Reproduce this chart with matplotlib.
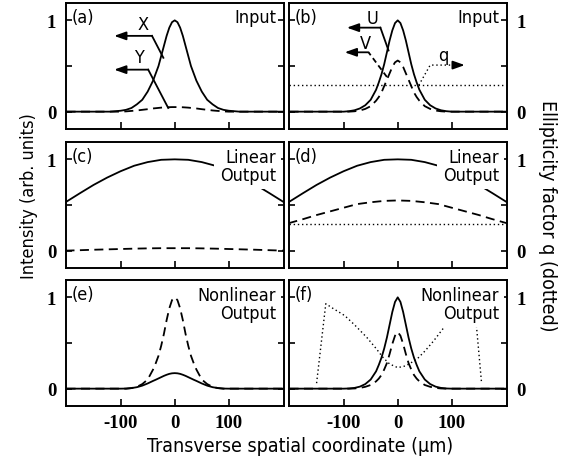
import numpy as np
import matplotlib.pyplot as plt

# ---------------- data ----------------
# grid for the narrow peaks (um)
px = [-200, -120, -100, -90, -80, -70, -60, -50, -40, -35, -30, -25, -20, -15, -10, -5, 0,
      5, 10, 15, 20, 25, 30, 35, 40, 50, 60, 70, 80, 90, 100, 120, 200]

# (a) input, X solid / Y dashed
a_x = [0, 0, 0.01, 0.02, 0.04, 0.08, 0.13, 0.22, 0.34, 0.42, 0.50, 0.61, 0.72, 0.83, 0.92, 0.98, 1.0,
       0.98, 0.92, 0.83, 0.72, 0.61, 0.50, 0.42, 0.34, 0.22, 0.13, 0.08, 0.04, 0.02, 0.01, 0, 0]
a_y = [0, 0, 0, 0.003, 0.008, 0.013, 0.02, 0.027, 0.035, 0.038, 0.041, 0.044, 0.046, 0.048, 0.049, 0.05, 0.05,
       0.05, 0.049, 0.048, 0.046, 0.044, 0.041, 0.038, 0.035, 0.027, 0.02, 0.013, 0.008, 0.003, 0, 0, 0]

# (b) input, U solid / V dashed / q dotted
b_u = [0, 0, 0, 0.005, 0.015, 0.035, 0.07, 0.13, 0.24, 0.32, 0.41, 0.52, 0.65, 0.78, 0.89, 0.97, 1.0,
       0.97, 0.89, 0.78, 0.65, 0.52, 0.41, 0.32, 0.24, 0.13, 0.07, 0.035, 0.015, 0.005, 0, 0, 0]
b_v = [0, 0, 0, 0, 0.004, 0.012, 0.03, 0.06, 0.12, 0.16, 0.21, 0.28, 0.35, 0.42, 0.49, 0.54, 0.56,
       0.54, 0.49, 0.42, 0.35, 0.28, 0.21, 0.16, 0.12, 0.06, 0.03, 0.012, 0.004, 0, 0, 0, 0]
q_in = 0.29

# broad grid for the linear outputs
bx = [-202, -175, -150, -125, -100, -75, -50, -25, 0, 25, 50, 75, 100, 125, 150, 175, 202]
lin_sol = [0.53, 0.63, 0.72, 0.80, 0.87, 0.93, 0.97, 0.995, 1.0, 0.995, 0.97, 0.93, 0.87, 0.80, 0.72, 0.63, 0.53]
c_dash = [0.0, 0.005, 0.01, 0.014, 0.018, 0.022, 0.025, 0.027, 0.027, 0.027, 0.025, 0.022, 0.018, 0.014, 0.01, 0.005, 0.0]
d_dash = [0.30, 0.345, 0.39, 0.43, 0.47, 0.51, 0.53, 0.545, 0.55, 0.545, 0.53, 0.51, 0.47, 0.43, 0.39, 0.345, 0.30]

# (e) nonlinear output
e_sol = [0, 0, 0, 0.001, 0.006, 0.016, 0.033, 0.057, 0.085, 0.098, 0.112, 0.126, 0.14, 0.152, 0.162, 0.168, 0.17,
         0.168, 0.162, 0.152, 0.14, 0.126, 0.112, 0.098, 0.085, 0.057, 0.033, 0.016, 0.006, 0.001, 0, 0, 0]
e_dash = [0, 0, 0, 0, 0.006, 0.02, 0.05, 0.10, 0.21, 0.28, 0.36, 0.47, 0.60, 0.75, 0.88, 0.97, 1.0,
          0.97, 0.88, 0.75, 0.60, 0.47, 0.36, 0.28, 0.21, 0.10, 0.05, 0.02, 0.006, 0, 0, 0, 0]

# (f) nonlinear output
f_sol = [0, 0, 0, 0.002, 0.008, 0.022, 0.05, 0.10, 0.19, 0.26, 0.34, 0.44, 0.56, 0.70, 0.84, 0.95, 1.0,
         0.95, 0.84, 0.70, 0.56, 0.44, 0.34, 0.26, 0.19, 0.10, 0.05, 0.022, 0.008, 0.002, 0, 0, 0]
f_dash = [0, 0, 0, 0, 0.002, 0.008, 0.02, 0.04, 0.08, 0.11, 0.15, 0.21, 0.28, 0.38, 0.49, 0.58, 0.62,
          0.58, 0.49, 0.38, 0.28, 0.21, 0.15, 0.11, 0.08, 0.04, 0.02, 0.008, 0.002, 0, 0, 0, 0]
fq_x = [-150, -133, -120, -98, -80, -57, -40, -27, -15, 0, 15, 35, 50, 66, 88, 110, 128, 142, 155]
fq_y = [0.06, 0.93, 0.88, 0.80, 0.70, 0.56, 0.44, 0.34, 0.27, 0.23, 0.25, 0.32, 0.41, 0.52, 0.69, 0.81, 0.88, 0.92, 0.06]

# ---------------- styles ----------------
sans = dict(family='DejaVu Sans', stretch='condensed')
tickf = dict(fontfamily='Liberation Serif', fontweight='bold', fontsize=13.5)
LW = 1.3
DASH = (5, 3)
DOT = (1, 2)
HEAD = '-|>,head_length=0.7,head_width=0.25'

fig = plt.figure(figsize=(5.72, 4.64), dpi=100)
lefts = [66 / 572, 289 / 572]
bottoms = [334 / 464, 195 / 464, 57 / 464]
w, h = 218 / 572, 126 / 464

axs = {}
names = [['a', 'b'], ['c', 'd'], ['e', 'f']]
for r in range(3):
    for c in range(2):
        ax = fig.add_axes([lefts[c], bottoms[r], w, h])
        ax.set_xlim(-201, 202)
        ax.set_ylim(-0.19, 1.19)
        ax.set_xticks([-100, 0, 100], ['-100', '0', '100'], **tickf)
        ax.set_yticks([0, 0.5, 1], ['0', '', '1'], **tickf)
        ax.tick_params(axis='x', direction='in', bottom=True, top=False, length=5, width=1.2,
                       labelbottom=(r == 2), pad=6)
        ax.tick_params(axis='y', direction='in', left=True, right=True, length=4, width=1.2,
                       labelleft=(c == 0), labelright=(c == 1), pad=7)
        for s in ax.spines.values():
            s.set_linewidth(1.4)
        ax.text(0.025, 0.96, '(%s)' % names[r][c], transform=ax.transAxes, ha='left', va='top',
                fontsize=13, **sans)
        axs[names[r][c]] = ax

box = dict(boxstyle='square,pad=0.3', fc='white', ec='none')


def corner_text(ax, s):
    # white box hides the curves behind it, spines stay on top
    ax.text(0.963, 0.955, s, transform=ax.transAxes, ha='right', va='top', fontsize=13,
            linespacing=1.0, multialignment='right', bbox=box, zorder=2.3, **sans)


def arrow(ax, tip, start):
    ax.annotate('', xy=tip, xytext=start,
                arrowprops=dict(arrowstyle=HEAD, color='k', lw=LW, shrinkA=0, shrinkB=0))


# (a)
ax = axs['a']
ax.plot(px, a_x, 'k-', lw=LW)
ax.plot(px, a_y, 'k', lw=LW, dashes=DASH)
ax.text(0.963, 0.96, 'Input', transform=ax.transAxes, ha='right', va='top', fontsize=13, **sans)
ax.plot([-21, -42], [0.59, 0.83], 'k-', lw=LW)
arrow(ax, (-112, 0.83), (-42, 0.83))
ax.text(-59, 0.96, 'X', ha='center', va='center', fontsize=13, **sans)
ax.plot([-12, -49], [0.04, 0.46], 'k-', lw=LW)
arrow(ax, (-112, 0.46), (-49, 0.46))
ax.text(-66, 0.6, 'Y', ha='center', va='center', fontsize=13, **sans)

# (b)
ax = axs['b']
ax.plot(px, b_u, 'k-', lw=LW)
ax.plot(px, b_v, 'k', lw=LW, dashes=DASH)
ax.axhline(q_in, color='k', lw=1.0, dashes=DOT)
ax.text(0.963, 0.96, 'Input', transform=ax.transAxes, ha='right', va='top', fontsize=13, **sans)
ax.plot([-17, -32], [0.67, 0.92], 'k-', lw=LW)
arrow(ax, (-94, 0.92), (-32, 0.92))
ax.text(-47, 1.03, 'U', ha='center', va='center', fontsize=13, **sans)
ax.plot([-20, -54], [0.38, 0.65], 'k', lw=LW, dashes=(3, 2))
arrow(ax, (-98, 0.65), (-54, 0.65))
ax.text(-60, 0.75, 'V', ha='center', va='center', fontsize=13, **sans)
ax.plot([39, 60, 105], [0.29, 0.51, 0.51], 'k', lw=1.0, dashes=DOT)
arrow(ax, (124, 0.51), (104, 0.51))
ax.text(85, 0.62, 'q', ha='center', va='center', fontsize=13, **sans)

# (c)
ax = axs['c']
ax.plot(bx, lin_sol, 'k-', lw=LW)
ax.plot(bx, c_dash, 'k', lw=LW, dashes=DASH)
corner_text(ax, 'Linear\nOutput')

# (d)
ax = axs['d']
ax.plot(bx, lin_sol, 'k-', lw=LW)
ax.plot(bx, d_dash, 'k', lw=LW, dashes=DASH)
ax.axhline(q_in, color='k', lw=1.0, dashes=DOT)
corner_text(ax, 'Linear\nOutput')

# (e)
ax = axs['e']
ax.plot(px, e_sol, 'k-', lw=LW)
ax.plot(px, e_dash, 'k', lw=LW, dashes=DASH)
corner_text(ax, 'Nonlinear\nOutput')

# (f)
ax = axs['f']
ax.plot(px, f_sol, 'k-', lw=LW)
ax.plot(px, f_dash, 'k', lw=LW, dashes=DASH)
ax.plot(fq_x, fq_y, 'k', lw=1.0, dashes=DOT)
corner_text(ax, 'Nonlinear\nOutput')

fig.text(0.05, 0.578, 'Intensity (arb. units)', rotation=90, ha='center', va='center',
         fontsize=13, **sans)
fig.text(0.958, 0.534, 'Ellipticity factor q (dotted)', rotation=270, ha='center', va='center',
         fontsize=14, **sans)
fig.text(0.525, 0.037, 'Transverse spatial coordinate (\u00b5m)', ha='center', va='center',
         fontsize=14, **sans)

fig.savefig('out.png', dpi=100)
